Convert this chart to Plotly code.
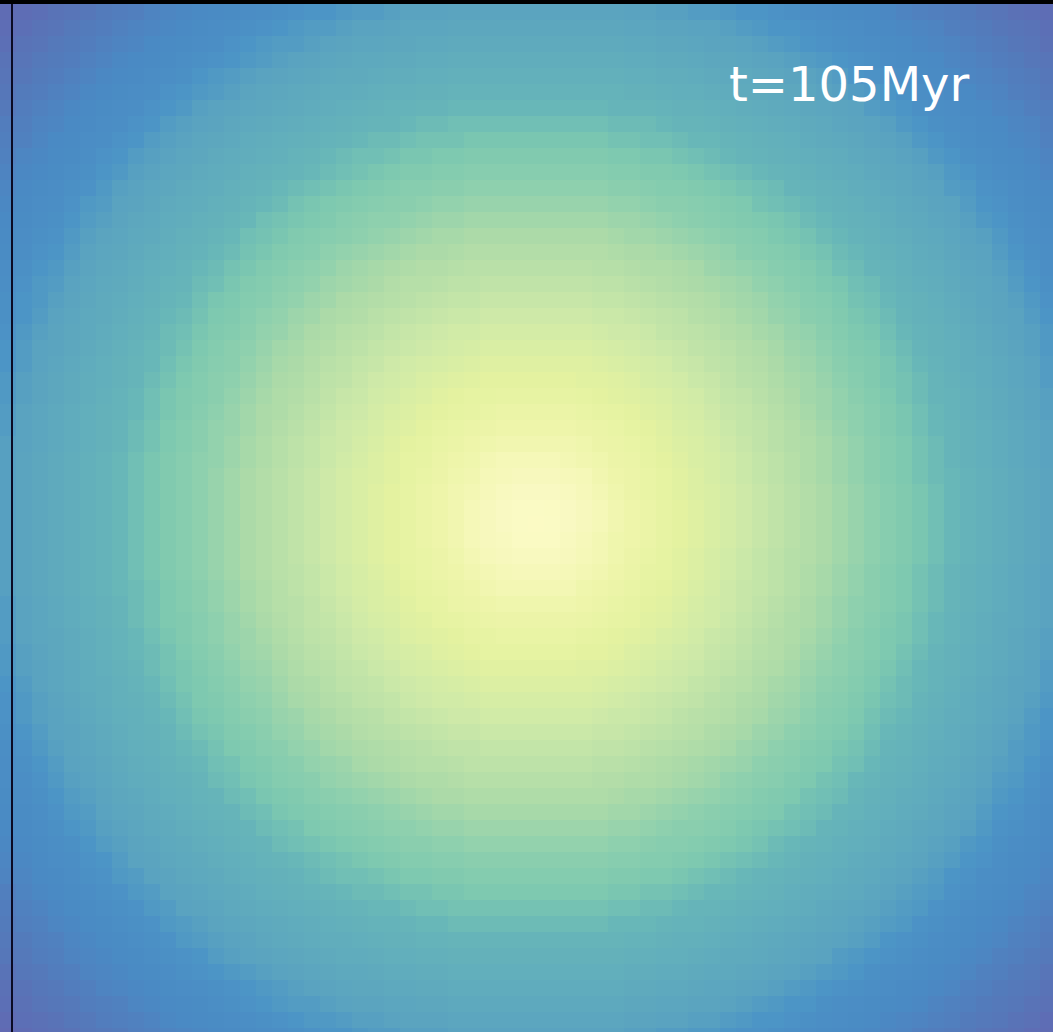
import numpy as np
import plotly.graph_objects as go

# Grid geometry (cells of 16 px) and map centre, in cell units
NX, NY = 66, 65
CENTRE_X, CENTRE_Y = 32.9, 31.75
CELL_PX = 16.0

# Radial profile of the normalised projected density (0 = peak, 1 = faintest),
# sampled every half cell (8 px) outward from the centre
RADIAL_LEVEL = [
    0.000, 0.003, 0.005, 0.008, 0.012, 0.022, 0.031, 0.041, 0.050, 0.063,
    0.077, 0.090, 0.103, 0.118, 0.134, 0.150, 0.166, 0.182, 0.198, 0.212,
    0.225, 0.238, 0.252, 0.265, 0.278, 0.292, 0.304, 0.313, 0.322, 0.332,
    0.341, 0.351, 0.360, 0.369, 0.379, 0.388, 0.398, 0.412, 0.428, 0.444,
    0.460, 0.476, 0.492, 0.510, 0.530, 0.550, 0.570, 0.590, 0.610, 0.630,
    0.650, 0.670, 0.690, 0.704, 0.712, 0.720, 0.728, 0.736, 0.744, 0.752,
    0.760, 0.768, 0.776, 0.784, 0.792, 0.800, 0.812, 0.825, 0.837, 0.849,
    0.862, 0.874, 0.882, 0.886, 0.891, 0.896, 0.901, 0.906, 0.912, 0.917,
    0.925, 0.931, 0.937, 0.943, 0.948, 0.954, 0.960, 0.966, 0.972, 0.977,
    0.983, 0.989, 0.995, 1.000, 1.000,
]

TIME_LABEL = "t=105Myr"

# Light core through green and blue to violet outskirts
COLORSCALE = [
    [0.00, "#fbfac5"],
    [0.10, "#eef5aa"],
    [0.20, "#e4f2a0"],
    [0.30, "#cfeaa8"],
    [0.40, "#abdaa8"],
    [0.50, "#8ccfae"],
    [0.60, "#7cc8b0"],
    [0.70, "#66b5b9"],
    [0.80, "#5aa3c0"],
    [0.85, "#4c95c6"],
    [0.90, "#4a8ac4"],
    [0.95, "#5578ba"],
    [1.00, "#6268b2"],
]

xs = np.arange(NX)
ys = np.arange(NY)
gx, gy = np.meshgrid(xs, ys)
ring = np.rint(2 * np.hypot(gx - CENTRE_X, gy - CENTRE_Y)).astype(int)
ring = np.clip(ring, 0, len(RADIAL_LEVEL) - 1)
z = np.asarray(RADIAL_LEVEL)[ring]

W, H = 1053, 1032
TOP = 4

fig = go.Figure(
    go.Heatmap(
        x=xs, y=ys, z=z,
        colorscale=COLORSCALE, zmin=0, zmax=1,
        showscale=False, zsmooth=False, hoverinfo="skip",
    )
)

fig.update_layout(
    width=W, height=H,
    margin=dict(l=0, r=0, t=0, b=0),
    paper_bgcolor="black", plot_bgcolor="black",
    xaxis=dict(range=[-0.5, -0.5 + W / CELL_PX], visible=False, domain=[0, 1]),
    yaxis=dict(range=[-0.5 + (H - TOP) / CELL_PX, -0.5], visible=False,
               domain=[0, (H - TOP) / H]),
    showlegend=False,
)

# Left spine
fig.add_shape(type="line", xref="paper", yref="paper",
              x0=12 / W, x1=12 / W, y0=0, y1=(H - TOP) / H,
              line=dict(color="#0b0b24", width=2))

fig.add_annotation(
    text=TIME_LABEL, xref="paper", yref="paper",
    x=727 / W, y=1 - 84 / H, xanchor="left", yanchor="middle",
    showarrow=False,
    font=dict(family="DejaVu Sans", size=48, color="white"),
)

fig.write_html("out.html")
